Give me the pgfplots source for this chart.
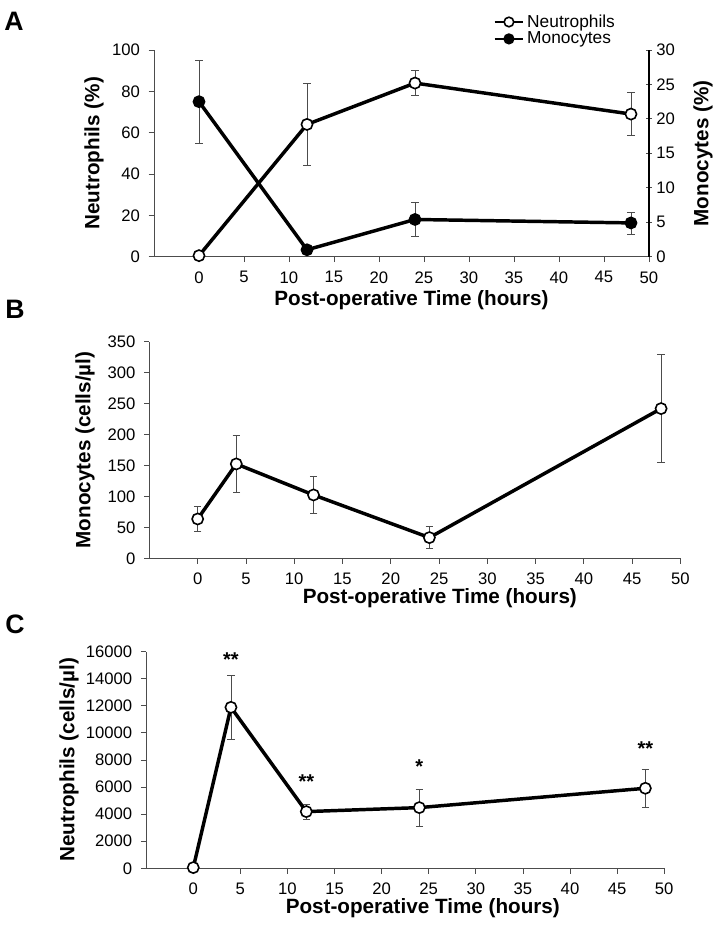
\documentclass[border=0pt]{standalone}
\usepackage{pgfplots}
\pgfplotsset{compat=1.18}
\usepackage{fontspec}
\setmainfont{Liberation Sans}

\newcommand{\lblfont}{\bfseries\fontsize{15.5}{18}\selectfont}
\pgfplotsset{
  panel/.style={
    scale only axis,
    axis x line=bottom, axis y line=left,
    axis line style={-, black!70, line width=0.6pt},
    xmin=-5, xmax=50,
    xtick={0,5,...,50},
    tick align=outside,
    major tick length=4pt,
    tick style={black!70, line width=0.6pt},
    ticklabel style={font=\fontsize{12.5}{14}\selectfont},
    yticklabel style={xshift=-3pt},
    xticklabel style={yshift=-3.5pt},
    /pgf/number format/assume math mode=true,
    /pgf/number format/set thousands separator={},
    scaled y ticks=false,
    xlabel={Post-operative Time (hours)},
    clip=false,
  },
  errs/.style={
    error bars/y dir=both, error bars/y explicit,
    error bars/error bar style={line width=0.55pt, black!70},
    error bars/error mark options={rotate=90, mark size=2.8pt, line width=0.55pt, black!70}},
  dat/.style={black, line width=2.6pt, mark=*, mark size=4.2pt,
    mark options={solid, fill=white, draw=black, line width=1.2pt}},
  datf/.style={black, line width=2.6pt, mark=*, mark size=4.2pt,
    mark options={solid, fill=black, draw=black, line width=1.2pt}},
}

\begin{document}
\begin{tikzpicture}
\path[use as bounding box] (0,0) rectangle (538.5pt,-694.5pt);

% Panel labels
\node[anchor=base west, font=\bfseries\fontsize{20}{20}\selectfont, inner sep=0pt] at (3pt,-22.5pt) {A};
\node[anchor=base west, font=\bfseries\fontsize{20}{20}\selectfont, inner sep=0pt] at (3.75pt,-238.5pt) {B};
\node[anchor=base west, font=\bfseries\fontsize{20}{20}\selectfont, inner sep=0pt] at (3.75pt,-474.75pt) {C};

% ---------- Panel A ----------
\begin{axis}[panel,
  at={(115.5pt,-192.5pt)}, anchor=south west,
  width=371.25pt, height=155pt,
  ymin=0, ymax=100, ytick={0,20,...,100},
  ylabel={Neutrophils (\%)},
  every axis y label/.style={at={(axis description cs:-0.121,0.5)}, anchor=center, rotate=90, font=\lblfont},
  every axis x label/.style={at={(axis description cs:0.52,-0.21)}, anchor=center, font=\lblfont},
  legend style={at={(axis description cs:0.685,1.185)}, anchor=north west, draw=none, fill=none,
    font=\fontsize{13}{14}\selectfont, row sep=-2pt, inner sep=0pt,
    /tikz/every even column/.append style={column sep=0pt}},
  legend cell align=left,
  legend image code/.code={\draw[line width=1.8pt, mark size=3.6pt, mark repeat=2,mark phase=2] plot coordinates {(0cm,0cm) (0.38cm,0cm) (0.76cm,0cm)};},
]
\addplot[dat, errs] table[x=x, y=y, y error=e] {
x y e
0 0.5 0
12 64 20
24 84 6
48 69 10.5
};
\addlegendentry{Neutrophils}
\addlegendimage{datf}
\addlegendentry{Monocytes}
\end{axis}

\begin{axis}[panel,
  at={(115.5pt,-192.5pt)}, anchor=south west,
  width=371.25pt, height=155pt,
  axis x line=none, axis y line=right,
  axis line style={-, black, line width=1.2pt},
  yticklabel style={xshift=3pt},
  ymin=0, ymax=30, ytick={0,5,...,30},
  xlabel={},
  ylabel={Monocytes (\%)},
  every axis y label/.style={at={(axis description cs:1.109,0.5)}, anchor=center, rotate=90, font=\lblfont},
]
\addplot[datf, errs] table[x=x, y=y, y error=e] {
x y e
0 22.5 6
12 1.0 0
24 5.4 2.5
48 4.9 1.6
};
\end{axis}

% ---------- Panel B ----------
\begin{axis}[panel,
  at={(112.05pt,-418.7pt)}, anchor=south west,
  width=398.25pt, height=162.5pt,
  ymin=0, ymax=350, ytick={0,50,...,350},
  ylabel={Monocytes (cells/µl)},
  every axis y label/.style={at={(axis description cs:-0.121,0.5)}, anchor=center, rotate=90, font=\lblfont},
  every axis x label/.style={at={(axis description cs:0.547,-0.185)}, anchor=center, font=\lblfont},
]
\addplot[dat, errs] table[x=x, y=y, y error=e] {
x y e
0 63.5 20
4 152.4 45.5
12 102.3 30
24 33.4 18
48 241.8 87.5
};
\end{axis}

% ---------- Panel C ----------
\begin{axis}[panel,
  at={(109.65pt,-651.2pt)}, anchor=south west,
  width=388.5pt, height=162.5pt,
  ymin=0, ymax=16000, ytick={0,2000,...,16000},
  ylabel={Neutrophils (cells/µl)},
  every axis y label/.style={at={(axis description cs:-0.149,0.5)}, anchor=center, rotate=90, font=\lblfont},
  every axis x label/.style={at={(axis description cs:0.534,-0.185)}, anchor=center, font=\lblfont},
]
\addplot[dat, errs] table[x=x, y=y, y error=e] {
x y e
0 50 0
4 11885 2330
12 4185 554
24 4480 1378
48 5908 1378
};
\node[font=\bfseries\fontsize{15}{15}\selectfont] at (axis cs:4,15434) {**};
\node[font=\bfseries\fontsize{15}{15}\selectfont] at (axis cs:12,6400) {**};
\node[font=\bfseries\fontsize{15}{15}\selectfont] at (axis cs:24,7508) {*};
\node[font=\bfseries\fontsize{15}{15}\selectfont] at (axis cs:48,8862) {**};
\end{axis}
\end{tikzpicture}
\end{document}
